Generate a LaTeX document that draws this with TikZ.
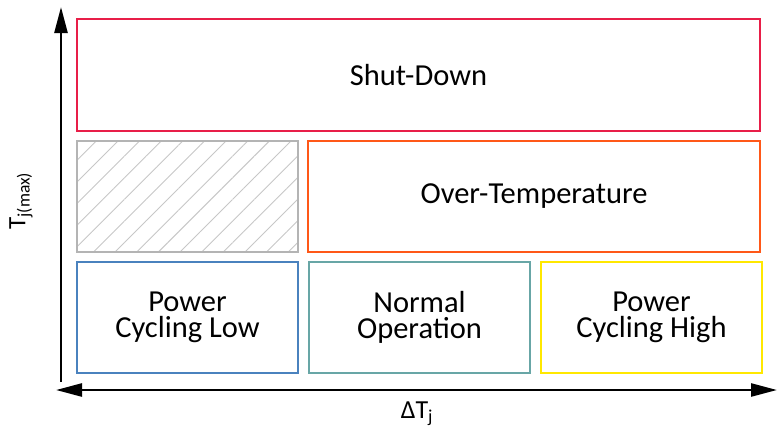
\documentclass[tikz,border=0pt]{standalone}
\usepackage{fontspec}
\setmainfont{Carlito}
\usetikzlibrary{arrows.meta,patterns.meta}
\definecolor{shutred}{RGB}{232,30,72}
\definecolor{overorange}{RGB}{255,88,24}
\definecolor{lowblue}{RGB}{74,130,190}
\definecolor{normteal}{RGB}{104,166,166}
\definecolor{highyellow}{RGB}{255,232,0}
\definecolor{voidgray}{RGB}{180,180,180}
\newcommand{\zonefont}{\fontsize{30.5}{26}\selectfont}
\tikzset{
  zone/.style={draw, line width=2pt, minimum width=221pt, minimum height=111pt,
    inner sep=0pt, align=center, font=\zonefont},
  axistip/.tip={Triangle[length=26pt,width=13pt]},
}

\begin{document}
\begin{tikzpicture}[x=1pt, y=-1pt]
	%%%%% START %%%%%
	
	\useasboundingbox (0, 0) rectangle (777, 432);
	
	\node[zone, draw=shutred, minimum width=683pt, minimum height=112pt] (shut) at (418.5, 75) {Shut-Down};
	
	\node[zone, draw=voidgray, pattern={Lines[angle=45, distance=15.3pt, line width=0.9pt]}, pattern color=voidgray!75] (void) at (187.5, 196.5) {};
	\node[zone, draw=overorange, minimum width=452pt] (over) at (534, 196.5) {Over-Temperature};
	
	\node[zone, draw=lowblue] (low) at (187.5, 317.5) {Power\\Cycling Low};
	\node[zone, draw=normteal] (normal) at (419.5, 317.5) {Normal\\Operation};
	\node[zone, draw=highyellow] (high) at (651.5, 317.5) {Power\\Cycling High};
	
	\coordinate (ybottom) at (61, 382);
	\coordinate (ytop) at (61, 7);
	\coordinate (xleft) at (56, 390);
	\coordinate (xright) at (777, 390);
	
	\draw[line width=2.5pt, -axistip] (ybottom) -- (ytop);
	\draw[line width=2.5pt, axistip-axistip] (xleft) -- (xright);
	
	\node[font=\fontsize{26}{26}\selectfont] (dtj) at (417, 414) {ΔT\textsubscript{j}};
	\node[font=\fontsize{25}{25}\selectfont, rotate=90] (tjmax) at (21, 201) {T\textsubscript{j(max)}};
	
	%%%%% END %%%%%
\end{tikzpicture}
\end{document}
